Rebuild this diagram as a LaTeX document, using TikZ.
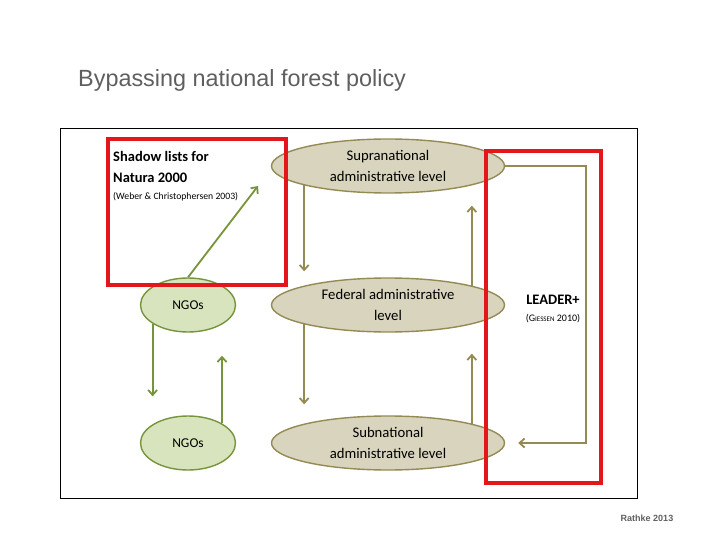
\documentclass[tikz,border=0pt]{standalone}
\usepackage{fontspec}
\setmainfont{Carlito}
\newfontfamily\arialfont{Liberation Sans}
\usetikzlibrary{positioning, calc, shapes, arrows.meta}

\definecolor{tanfill}{HTML}{D8D4BD}
\definecolor{tanline}{HTML}{948A54}
\definecolor{ngofill}{HTML}{D7E4BD}
\definecolor{ngoline}{HTML}{77933C}
\definecolor{boxred}{HTML}{E3161C}
\definecolor{titlegray}{HTML}{5F5F5F}

\begin{document}
\begin{tikzpicture}[x=1pt, y=-1pt, >={Straight Barb[length=5pt,width=9pt]},
					level/.style={ellipse, draw=tanline, fill=tanfill, line width=1.4pt,
						minimum width=233pt, minimum height=54pt, inner sep=0pt, align=center,
						font=\fontsize{14.7}{21}\selectfont},
					ngo/.style={ellipse, draw=ngoline, fill=ngofill, line width=1.4pt,
						minimum width=95pt, minimum height=54pt, inner sep=0pt,
						font=\fontsize{13.5}{20}\selectfont},
					tanarrow/.style={->, draw=tanline, line width=1.8pt},
					ngoarrow/.style={->, draw=ngoline, line width=1.8pt},
					redbox/.style={draw=boxred, line width=3.5pt} ]
	\useasboundingbox (0,0) rectangle (720,540);
	
	\node[anchor=west, text=titlegray, font=\arialfont\fontsize{23.4}{28}\selectfont,
		inner sep=0pt] (title) at (78,80) {Bypassing national forest policy};
	\draw[black, line width=0.8pt] (60,128) rectangle (637,498);
	
	%Ebenen:
	\node[level] (supra) at (388,166) {Supranational\\administrative level};
	\node[level] (fed)   at (388,305) {Federal administrative\\level};
	\node[level] (sub)   at (388,443) {Subnational\\administrative level};
	\node[ngo]   (ngoA)  at (188,305) {NGOs};
	\node[ngo]   (ngoB)  at (188,443) {NGOs};
	
	\coordinate (shadowtip) at (258,186);
	\coordinate (leadx)     at (586,300);
	\coordinate (leadin)    at ($(sub.east)+(13,0)$);
	
	%Pfeile zwischen den Ebenen:
	\draw[tanarrow, shorten >=6pt]  (supra.193) -- (supra.193 |- fed.north);
	\draw[tanarrow, shorten >=12pt] (fed.13)    -- (fed.13 |- supra.south);
	\draw[tanarrow, shorten >=11pt] (fed.193)   -- (fed.193 |- sub.north);
	\draw[tanarrow, shorten >=21pt] (sub.13)    -- (sub.13 |- fed.south);
	\draw[tanarrow] (supra.east) -- (supra.east -| leadx) |- (leadin);
	
	\draw[ngoarrow, shorten >=19pt] (ngoA.208) -- (ngoA.208 |- ngoB.north);
	\draw[ngoarrow, shorten >=23pt] (ngoB.30)  -- (ngoB.30 |- ngoA.south);
	\draw[ngoarrow] (ngoA.north) -- (shadowtip);
	
	%Texte:
	\node[anchor=north west, align=left, inner sep=0pt,
		font=\fontsize{14.5}{21}\selectfont\bfseries] (shadow) at (113,151)
		{Shadow lists for\\Natura 2000};
	\node[anchor=north west, inner sep=0pt, font=\fontsize{9.7}{12}\selectfont]
		(weber) at (113,192) {(Weber \& Christophersen 2003)};
	\node[font=\fontsize{14.5}{17}\selectfont\bfseries] (leader) at (553,300) {LEADER+};
	\node[font=\fontsize{10}{12}\selectfont, below=5pt of leader, inner sep=1pt] (giessen)
		{(G{\fontsize{7}{8}\selectfont IESSEN} 2010)};
	
	\draw[redbox] (108,139) rectangle (286,285);
	\draw[redbox] (486,151) rectangle (601,483);
	
	\node[text=titlegray, font=\arialfont\bfseries\fontsize{9}{11}\selectfont] (source)
		at (647,518) {Rathke 2013};
\end{tikzpicture}
\end{document}
